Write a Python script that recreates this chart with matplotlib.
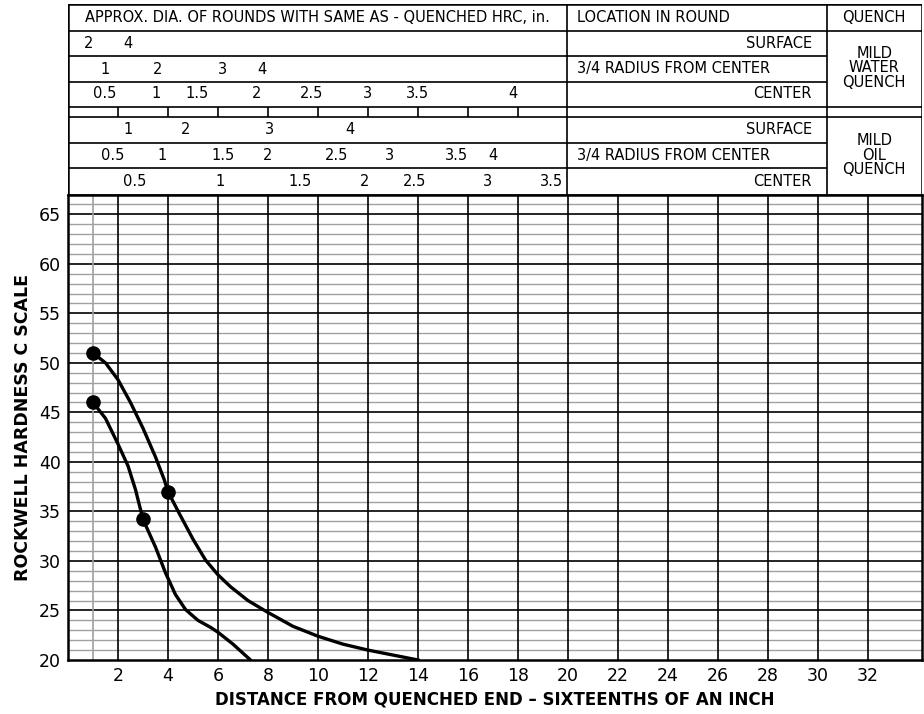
import matplotlib
matplotlib.use("Agg")
import matplotlib.pyplot as plt

# hardness curves (distance in 1/16 in, HRC)
upper_x = [1, 1.5, 2, 2.5, 3, 3.5, 3.85, 4, 4.45, 5, 5.5, 6, 6.5, 7.2, 8, 9, 10, 11, 12, 13, 14]
upper_y = [51, 50.0, 48.3, 46.0, 43.4, 40.5, 38.2, 37.0, 34.8, 32.2, 30.1, 28.6, 27.4, 26.0,
           24.8, 23.4, 22.4, 21.6, 21.0, 20.5, 20.0]
lower_x = [1, 1.5, 2, 2.4, 2.7, 3, 3.5, 3.9, 4.3, 4.7, 5.2, 5.7, 6.0, 6.6, 7.3]
lower_y = [46, 44.4, 41.8, 39.6, 37.2, 34.2, 31.4, 28.8, 26.6, 25.1, 24.0, 23.3, 22.8, 21.6, 20.0]
dots_x = [1, 4, 1, 3]
dots_y = [51, 37, 46, 34.2]

x_ticks = list(range(2, 33, 2))
y_ticks = list(range(20, 66, 5))

# equivalent round diameters (in.) and where they sit on the distance scale
water_surface_pos = [0.84, 2.4]
water_surface_lab = ["2", "4"]
water_34_pos = [1.48, 3.6, 6.2, 7.76]
water_34_lab = ["1", "2", "3", "4"]
water_center_pos = [1.48, 3.52, 5.16, 7.56, 9.76, 12.0, 14.0, 17.8]
water_center_lab = ["0.5", "1", "1.5", "2", "2.5", "3", "3.5", "4"]
oil_surface_pos = [2.4, 4.72, 8.08, 11.28]
oil_surface_lab = ["1", "2", "3", "4"]
oil_34_pos = [1.8, 3.76, 6.2, 8.0, 10.76, 12.88, 15.56, 17.0]
oil_34_lab = ["0.5", "1", "1.5", "2", "2.5", "3", "3.5", "4"]
oil_center_pos = [2.68, 6.08, 9.28, 11.88, 13.88, 16.8, 19.36]
oil_center_lab = ["0.5", "1", "1.5", "2", "2.5", "3", "3.5"]

W, H = 924, 714
XMAX = 34.15
fig = plt.figure(figsize=(W / 100, H / 100), dpi=100)

# main chart
ax = fig.add_axes([68 / W, 54 / H, (921.7 - 68) / W, (660 - 194.5) / H])
ax.set_xlim(0, XMAX)
ax.set_ylim(20, 67)
for y in range(21, 67):
    if y % 5 == 0:
        ax.axhline(y, color="black", lw=1.2, zorder=1)
    else:
        ax.axhline(y, color="#a0a0a0", lw=1.0, zorder=1)
ax.axvline(1, color="#a0a0a0", lw=1.2, zorder=1)
for x in x_ticks:
    ax.axvline(x, color="black", lw=1.2, zorder=1)

ax.plot(upper_x, upper_y, color="black", lw=2.4, zorder=3, solid_joinstyle="round")
ax.plot(lower_x, lower_y, color="black", lw=2.4, zorder=3, solid_joinstyle="round")
ax.plot(dots_x, dots_y, "o", color="black", ms=9.5, zorder=4)

ax.set_xticks(x_ticks)
ax.set_yticks(y_ticks)
ax.tick_params(length=0, labelsize=12.5, pad=5)
for s in ax.spines.values():
    s.set_linewidth(1.8)
ax.set_xlabel("DISTANCE FROM QUENCHED END \u2013 SIXTEENTHS OF AN INCH",
              fontsize=12, fontweight="bold", labelpad=4)
ax.set_ylabel("ROCKWELL HARDNESS C SCALE", fontsize=12.5, fontweight="bold", labelpad=5)

# header table above the chart, pixel rows on y
tax = fig.add_axes([68 / W, (H - 194.5) / H, (921.7 - 68) / W, (194.5 - 4) / H])
tax.set_xlim(0, XMAX)
tax.set_ylim(194.5, 4)
tax.axis("off")

c1, c2 = 19.96, 30.35
rows = [4, 30.7, 56, 81.7, 106.7, 117.3, 142.7, 168.3, 194.5]
kw = dict(color="black", lw=1.2, solid_capstyle="butt")
for y in rows[1:-1]:
    if y in (56, 81.7, 142.7, 168.3):
        tax.plot([0, c2], [y, y], **kw)
    else:
        tax.plot([0, XMAX], [y, y], **kw)
tax.plot([0, XMAX, XMAX, 0, 0], [4, 4, 194.5, 194.5, 4], color="black", lw=1.8)
tax.plot([c1, c1], [4, 194.5], **kw)
tax.plot([c2, c2], [4, 194.5], **kw)
for x in range(2, 20, 2):
    tax.plot([x, x], [106.7, 117.3], **kw)

fs = 10.5
tax.text(c1 / 2, 17, "APPROX. DIA. OF ROUNDS WITH SAME AS - QUENCHED HRC, in.",
         ha="center", va="center", fontsize=fs)
tax.text(c1 + 0.4, 17, "LOCATION IN ROUND", ha="left", va="center", fontsize=fs)
tax.text((c2 + XMAX) / 2, 17, "QUENCH", ha="center", va="center", fontsize=fs)

loc_rows = [(43, "SURFACE", "r"), (69, "3/4 RADIUS FROM CENTER", "l"), (94, "CENTER", "r"),
            (130, "SURFACE", "r"), (155.5, "3/4 RADIUS FROM CENTER", "l"), (181, "CENTER", "r")]
for y, txt, al in loc_rows:
    if al == "l":
        tax.text(c1 + 0.4, y, txt, ha="left", va="center", fontsize=fs)
    else:
        tax.text(c2 - 0.6, y, txt, ha="right", va="center", fontsize=fs)

tax.text((c2 + XMAX) / 2, 68, "MILD\nWATER\nQUENCH", ha="center", va="center",
         fontsize=fs, linespacing=0.95)
tax.text((c2 + XMAX) / 2, 155, "MILD\nOIL\nQUENCH", ha="center", va="center",
         fontsize=fs, linespacing=0.95)

dia_rows = [(43, water_surface_pos, water_surface_lab),
            (69, water_34_pos, water_34_lab),
            (94, water_center_pos, water_center_lab),
            (130, oil_surface_pos, oil_surface_lab),
            (155.5, oil_34_pos, oil_34_lab),
            (181, oil_center_pos, oil_center_lab)]
for y, pos, lab in dia_rows:
    for p, l in zip(pos, lab):
        tax.text(p, y, l, ha="center", va="center", fontsize=fs)

fig.savefig("out.png", dpi=100)
